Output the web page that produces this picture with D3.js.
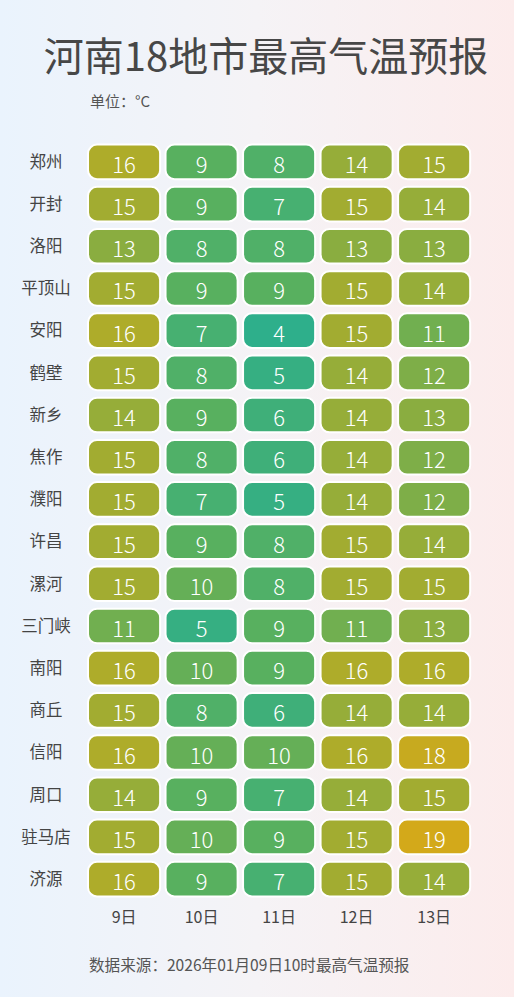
<!DOCTYPE html>
<html><head><meta charset="utf-8">
<script src="https://cdn.jsdelivr.net/npm/d3@7"></script>
<style>
html,body{margin:0;padding:0;}
body{width:514px;height:997px;overflow:hidden;}
svg{display:block;}
</style>
</head><body>
<svg id="chart" width="514" height="997"></svg>
<script>
const title = "河南18地市最高气温预报";
const unitLabel = "单位：°C";
const sourceLabel = "数据来源：2026年01月09日10时最高气温预报";
const cities = ["郑州","开封","洛阳","平顶山","安阳","鹤壁","新乡","焦作","濮阳","许昌","漯河","三门峡","南阳","商丘","信阳","周口","驻马店","济源"];
const days = ["9日","10日","11日","12日","13日"];
const day9  = [16,15,13,15,16,15,14,15,15,15,15,11,16,15,16,14,15,16];
const day10 = [9,9,8,9,7,8,9,8,7,9,10,5,10,8,10,9,10,9];
const day11 = [8,7,8,9,4,5,6,6,5,8,8,9,9,6,10,7,9,7];
const day12 = [14,15,13,15,15,14,14,14,14,15,15,11,16,14,16,14,15,15];
const day13 = [15,14,13,14,11,12,13,12,12,14,15,13,16,14,18,15,19,14];
const series = [day9, day10, day11, day12, day13];

const font = "'Noto Sans CJK SC','Noto Sans',sans-serif";
const svg = d3.select("#chart");
const W = 514, H = 997;

const defs = svg.append("defs");
const grad = defs.append("linearGradient").attr("id","bg").attr("x1","0").attr("x2","1").attr("y1","0").attr("y2","0");
grad.append("stop").attr("offset","0").attr("stop-color","#eaf3fd");
grad.append("stop").attr("offset","0.5").attr("stop-color","#f5f3f6");
grad.append("stop").attr("offset","1").attr("stop-color","#fcecec");
svg.append("rect").attr("width",W).attr("height",H).attr("fill","url(#bg)");

svg.append("text").attr("x",266).attr("y",54).attr("text-anchor","middle")
  .attr("dominant-baseline","central").attr("font-family",font).attr("font-size",40)
  .attr("font-weight",400).attr("fill","#474747").text(title);
svg.append("text").attr("x",90).attr("y",100).attr("dominant-baseline","central")
  .attr("font-family",font).attr("font-size",15).attr("font-weight",400).attr("fill","#555").text(unitLabel);

const x = d3.scaleBand().domain(days).range([82.6, 475.6]).padding(0.07);
const y = d3.scaleBand().domain(cities).range([137, 904]).padding(0.18);
const color = d3.scaleLinear().domain([4, 9, 13, 16, 19])
  .range(["#2eaf8b","#58b05f","#8aad40","#aeac2a","#d3a91a"]).clamp(true);

const cells = [];
series.forEach((vals, j) => vals.forEach((v, i) => cells.push({city: cities[i], day: days[j], v})));

const g = svg.append("g");
const cg = g.selectAll("g.cell").data(cells).join("g").attr("class","cell");
cg.append("rect")
  .attr("x", d => x(d.day)).attr("y", d => y(d.city))
  .attr("width", x.bandwidth()).attr("height", y.bandwidth())
  .attr("rx", 9).attr("ry", 9)
  .attr("fill", d => color(d.v)).attr("stroke", "#ffffff").attr("stroke-width", 2);
cg.append("text")
  .attr("x", d => x(d.day) + x.bandwidth()/2).attr("y", d => y(d.city) + y.bandwidth()/2 + 1)
  .attr("text-anchor","middle").attr("dominant-baseline","central")
  .attr("font-family",font).attr("font-size",22).attr("font-weight",300)
  .attr("fill","#ffffff").text(d => d.v);

const yAxis = d3.axisLeft(y).tickSize(0).tickPadding(0);
const ya = svg.append("g").attr("transform","translate(46,0)").call(yAxis);
ya.select(".domain").remove();
ya.selectAll("text").attr("text-anchor","middle").attr("x",0).attr("dy","0.35em")
  .attr("font-family",font).attr("font-size",16.5).attr("font-weight",400).attr("fill","#444");

const xAxis = d3.axisBottom(x).tickSize(0).tickPadding(0);
const xa = svg.append("g").attr("transform","translate(0,917)").call(xAxis);
xa.select(".domain").remove();
xa.selectAll("text").attr("y",0).attr("dy","0.35em")
  .attr("font-family",font).attr("font-size",16).attr("font-weight",400).attr("fill","#444");

svg.append("text").attr("x",89).attr("y",964).attr("dominant-baseline","central")
  .attr("font-family",font).attr("font-size",15.6).attr("font-weight",400).attr("fill","#555").text(sourceLabel);
</script>
</body></html>
